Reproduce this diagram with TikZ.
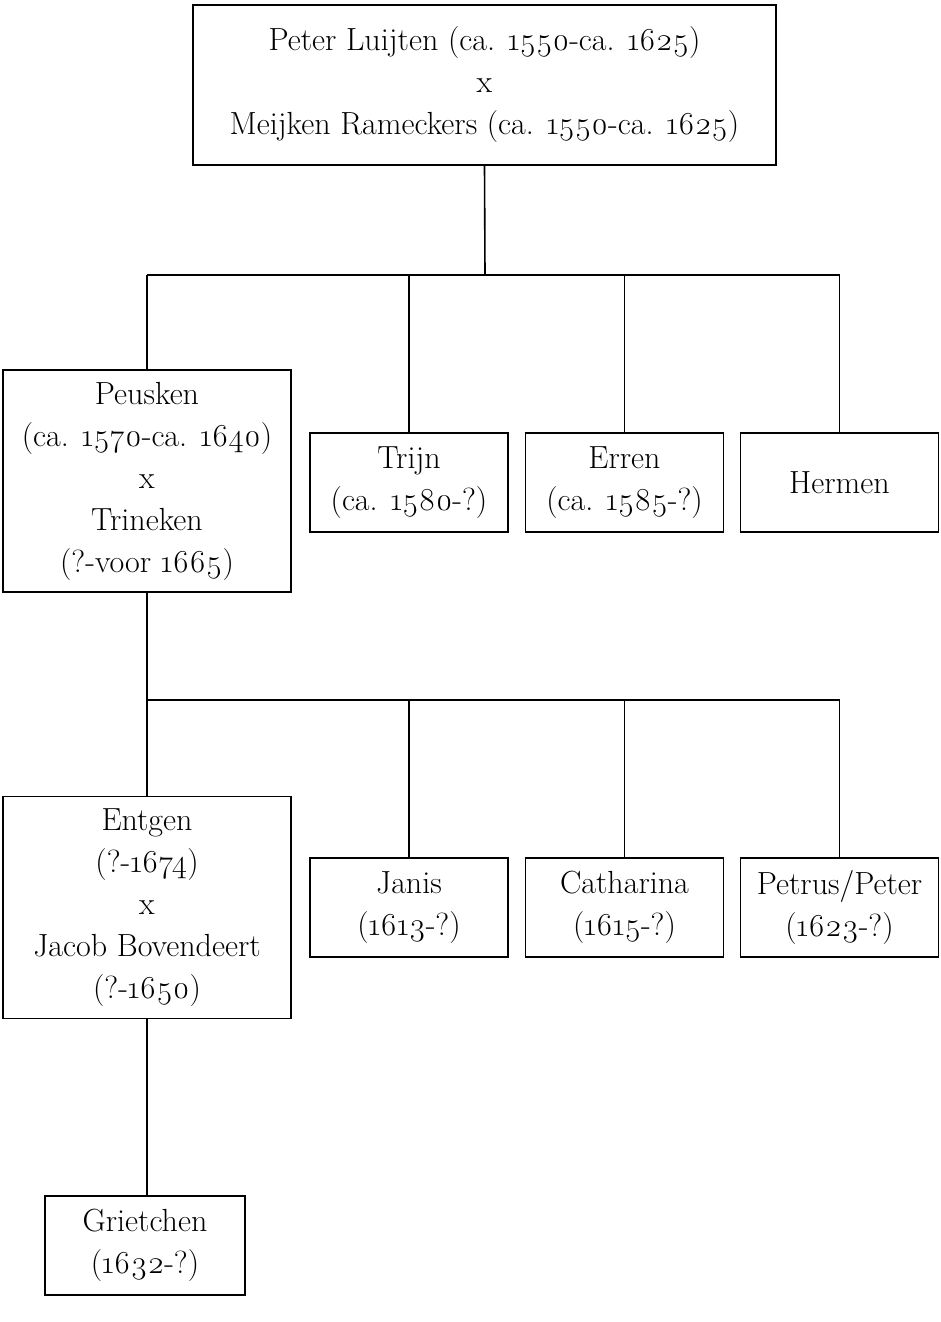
\documentclass[tikz,border=0pt]{standalone}
\usepackage{fontspec}
\setmainfont{Latin Modern Roman}[Numbers=OldStyle]
\tikzset{
  person/.style={draw, line width=1.6pt, align=center, inner sep=0pt,
    font=\fontsize{32}{42}\selectfont},
  wide/.style={person, minimum width=288pt, minimum height=222pt},
  small/.style={person, minimum width=198pt, minimum height=99pt},
  link/.style={line width=1.6pt}
}
\begin{document}
\begin{tikzpicture}[x=1pt,y=-1pt]
\useasboundingbox (0,0) rectangle (940,1322);
%\draw[step=50,gray,very thin] (0,0) grid (940,1322);
% generation 1
\node[person, minimum width=583pt, minimum height=160pt] (peter) at (484.5,85)
  {Peter Luijten (ca. 1550-ca. 1625)\\x\\Meijken Rameckers (ca. 1550-ca. 1625)};
% generation 2
\node[wide] (peusken) at (147,481)
  {Peusken\\(ca. 1570-ca. 1640)\\x\\Trineken\\(?-voor 1665)};
\node[small] (trijn) at (409,482.5) {Trijn\\(ca. 1580-?)};
\node[small] (erren) at (624.5,482.5) {Erren\\(ca. 1585-?)};
\node[small] (hermen) at (839.5,482.5) {Hermen};
% generation 3
\node[wide] (entgen) at (147,907.5)
  {Entgen\\(?-1674)\\x\\Jacob Bovendeert\\(?-1650)};
\node[small] (janis) at (409,907.5) {Janis\\(1613-?)};
\node[small] (catharina) at (624.5,907.5) {Catharina\\(1615-?)};
\node[small] (petrus) at (839.5,907.5) {Petrus/Peter\\(1623-?)};
% generation 4
\node[small, minimum width=200pt] (grietchen) at (145,1245.5) {Grietchen\\(1632-?)};
% connectors
\coordinate (bar1) at (485,275);
\coordinate (bar2) at (147,700);
\draw[link] (peter.south) -- (bar1);
\draw[link] (peusken.north |- bar1) -- (hermen.north |- bar1);
\foreach \c in {peusken,trijn,erren,hermen}
  \draw[link] (\c.north) -- (\c.north |- bar1);
\draw[link] (peusken.south) -- (bar2);
\draw[link] (entgen.north |- bar2) -- (petrus.north |- bar2);
\foreach \c in {entgen,janis,catharina,petrus}
  \draw[link] (\c.north) -- (\c.north |- bar2);
\draw[link] (entgen.south) -- (entgen.south |- grietchen.north);
\end{tikzpicture}
\end{document}
